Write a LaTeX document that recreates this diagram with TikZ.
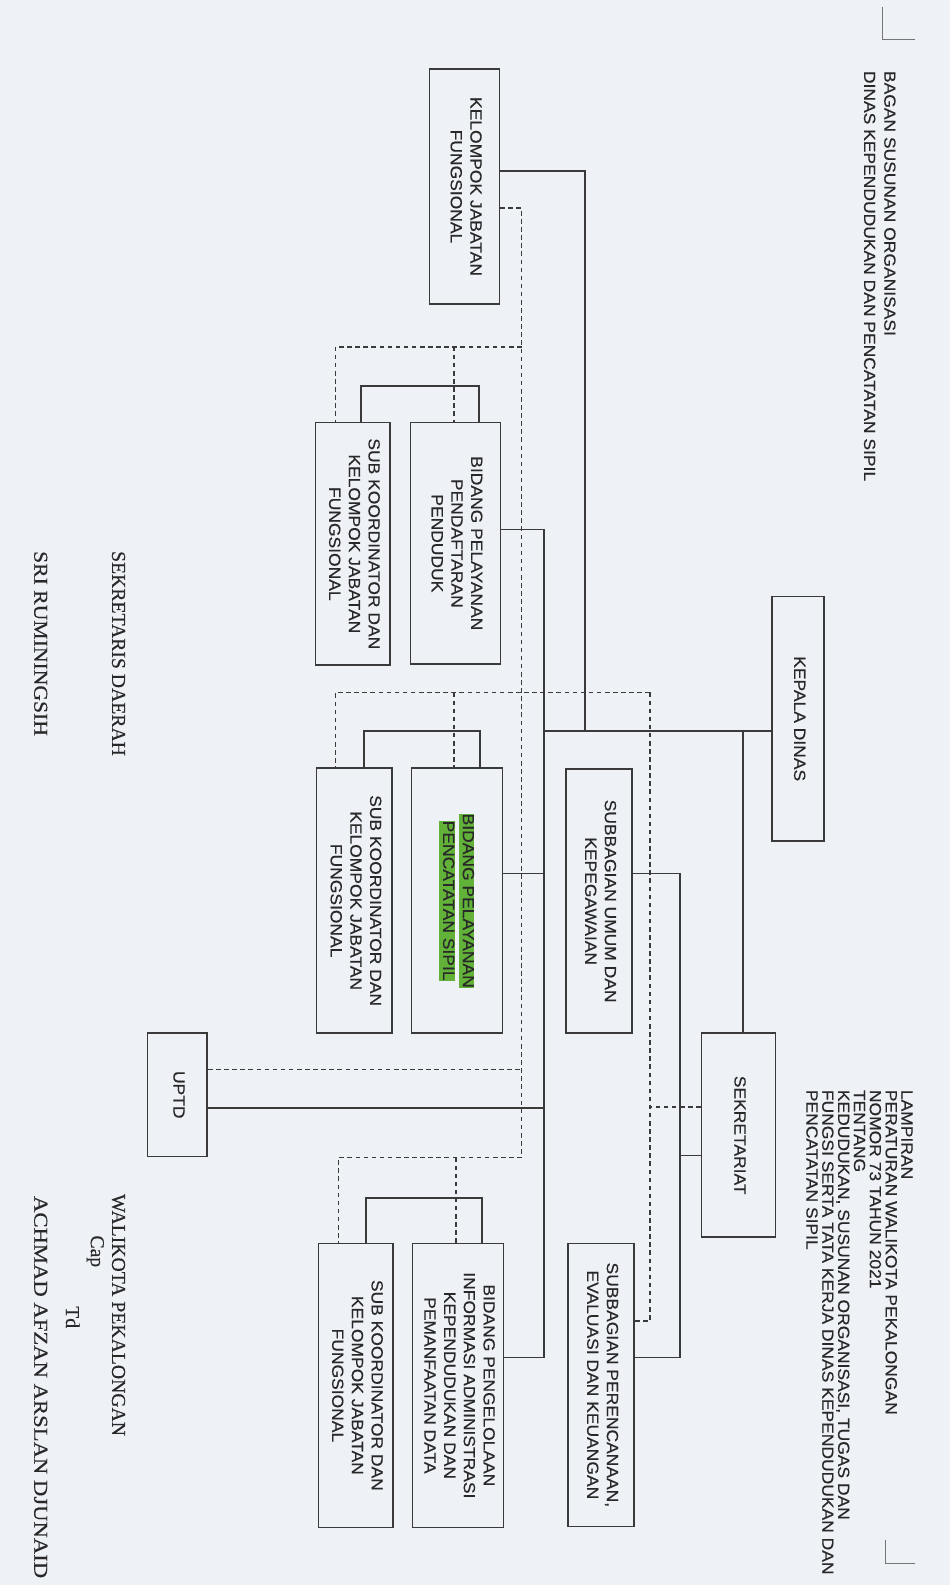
\documentclass[tikz,border=0pt]{standalone}
\usepackage{fontspec}
\setmainfont[FakeStretch=1.08,FakeBold=0.4]{Liberation Sans}
\newfontfamily\sigfont[FakeBold=0.4]{Liberation Serif}
\usepackage{graphicx}
\usetikzlibrary{calc}
\definecolor{bg}{RGB}{238,242,247}
\definecolor{ln}{RGB}{58,58,58}
\definecolor{tx}{RGB}{40,40,40}
\definecolor{hl}{RGB}{98,178,58}
\newcommand{\rt}[1]{\rotatebox{-90}{\begin{tabular}{@{}c@{}}#1\end{tabular}}}
\newcommand{\rtl}[1]{\rotatebox{-90}{\begin{tabular}{@{}l@{}}#1\end{tabular}}}
\newcommand{\hlt}[1]{{\setlength{\fboxsep}{0pt}\colorbox{hl}{\rule[-4pt]{0pt}{15.5pt}#1}}}
\begin{document}
\begin{tikzpicture}[x=1pt,y=-1pt,
  box/.style={draw=ln, line width=1.6pt, inner sep=0pt, text=tx, font=\fontsize{16}{19.5}\selectfont},
  conn/.style={draw=ln, line width=1.6pt},
  dconn/.style={draw=ln, line width=1.6pt, dash pattern=on 4.5pt off 3.5pt},
  lbl/.style={inner sep=0pt, text=tx},
  siglbl/.style={inner sep=0pt, text=tx, anchor=north east, font=\sigfont\fontsize{19.5}{22}\selectfont},
  cornermark/.style={draw=ln!70, line width=1pt}]
\useasboundingbox (0,0) rectangle (940,1568);
\fill[bg] (0,0) rectangle (940,1568);

% corner marks
\draw[cornermark] (873,7) -- (873,39) -- (905,39);
\draw[cornermark] (876,1523) -- (876,1547) -- (905,1547);

% header texts
\node[lbl, anchor=north east] (title) at (889,70)
  {\fontsize{16}{20}\selectfont\rtl{BAGAN SUSUNAN ORGANISASI\\DINAS KEPENDUDUKAN DAN PENCATATAN SIPIL}};
\node[lbl, anchor=north east] (lamp) at (903,1078)
  {\fontsize{16}{15}\selectfont\rtl{LAMPIRAN\\PERATURAN WALIKOTA PEKALONGAN\\NOMOR 73 TAHUN 2021\\TENTANG\\KEDUDUKAN, SUSUNAN ORGANISASI, TUGAS DAN\\FUNGSI SERTA TATA KERJA DINAS KEPENDUDUKAN DAN\\PENCATATAN SIPIL}};

% boxes
\node[box, minimum width=51pt, minimum height=242pt] (kepala) at (789.5,711) {\rt{KEPALA DINAS}};
\node[box, minimum width=73pt, minimum height=202pt] (sekre) at (730.5,1123) {\rt{SEKRETARIAT}};
\node[box, minimum width=65pt, minimum height=261pt] (sbumum) at (592.5,891.5) {\rt{SUBBAGIAN UMUM DAN\\KEPEGAWAIAN}};
\node[box, minimum width=65pt, minimum height=280pt] (sbperen) at (594.5,1370) {\rt{SUBBAGIAN PERENCANAAN,\\EVALUASI DAN KEUANGAN}};
\node[box, minimum width=69pt, minimum height=233pt] (kjf) at (459.5,184.5) {\rt{KELOMPOK JABATAN\\FUNGSIONAL}};
\node[box, minimum width=89pt, minimum height=239pt] (b1) at (450.5,537.5) {\rt{BIDANG PELAYANAN\\PENDAFTARAN\\PENDUDUK}};
\node[box, minimum width=74pt, minimum height=240pt] (s1) at (349,538) {\rt{SUB KOORDINATOR DAN\\KELOMPOK JABATAN\\FUNGSIONAL}};
\node[box, minimum width=90pt, minimum height=262pt] (b2) at (452,891) {\rt{\hlt{BIDANG PELAYANAN}\\\hlt{PENCATATAN SIPIL}}};
\node[box, minimum width=75pt, minimum height=262pt] (s2) at (350.5,891) {\rt{SUB KOORDINATOR DAN\\KELOMPOK JABATAN\\FUNGSIONAL}};
\node[box, minimum width=90pt, minimum height=281pt] (b3) at (453,1370.5) {\rt{BIDANG PENGELOLAAN\\INFORMASI ADMINISTRASI\\KEPENDUDUKAN DAN\\PEMANFAATAN DATA}};
\node[box, minimum width=74pt, minimum height=281pt] (s3) at (352,1370.5) {\rt{SUB KOORDINATOR DAN\\KELOMPOK JABATAN\\FUNGSIONAL}};
\node[box, minimum width=59pt, minimum height=122pt] (uptd) at (175.5,1083) {\rt{UPTD}};

% solid connectors
\draw[conn] (kepala.west |- 0,723) -- (538,723);
\draw[conn] (735,723) -- (sekre.north -| 735,0);
\draw[conn] (579,723) -- (579,169) -- (kjf.east |- 0,169);
\draw[conn] (b1.east |- 0,524) -- (538,524) -- (538,1343) -- (b3.east |- 0,1343);
\draw[conn] (b2.east |- 0,864) -- (538,864);
\draw[conn] (uptd.east |- 0,1096) -- (538,1096);
\draw[conn] (sbumum.east |- 0,864) -- (673,864) -- (673,1343) -- (sbperen.east |- 0,1343);
\draw[conn] (673,1143) -- (sekre.west |- 0,1143);
\draw[conn] (b1.north -| 474,0) -- (474,382) -- (357,382) -- (s1.north -| 357,0);
\draw[conn] (b2.north -| 475,0) -- (475,723) -- (360,723) -- (s2.north -| 360,0);
\draw[conn] (b3.north -| 477,0) -- (477,1185) -- (362,1185) -- (s3.north -| 362,0);

% dashed connectors
\draw[dconn] (kjf.east |- 0,206) -- (516,206) -- (516,1145) -- (335,1145) -- (s3.north -| 335,0);
\draw[dconn] (451,1145) -- (b3.north -| 451,0);
\draw[dconn] (516,343) -- (332,343) -- (s1.north -| 332,0);
\draw[dconn] (449,343) -- (b1.north -| 449,0);
\draw[dconn] (643,685) -- (332,685) -- (s2.north -| 332,0);
\draw[dconn] (449,685) -- (b2.north -| 449,0);
\draw[dconn] (643,685) -- (643,1307) -- (sbperen.east |- 0,1307);
\draw[dconn] (sekre.west |- 0,1095) -- (643,1095);
\draw[dconn] (uptd.east |- 0,1058) -- (516,1058);

% signature texts
\node[siglbl] (sekda) at (124,545) {\rotatebox{-90}{SEKRETARIS DAERAH}};
\node[siglbl] (sri) at (47,545) {\rotatebox{-90}{\scalebox{1.1}[1]{SRI RUMININGSIH}}};
\node[siglbl] (wali) at (124,1181) {\rotatebox{-90}{WALIKOTA PEKALONGAN}};
\node[siglbl] (cap) at (103,1222) {\rotatebox{-90}{Cap}};
\node[siglbl] (td) at (79,1292) {\rotatebox{-90}{Td}};
\node[siglbl] (walname) at (47,1183) {\rotatebox{-90}{\scalebox{1.15}[1]{ACHMAD AFZAN ARSLAN DJUNAID}}};
\end{tikzpicture}
\end{document}
